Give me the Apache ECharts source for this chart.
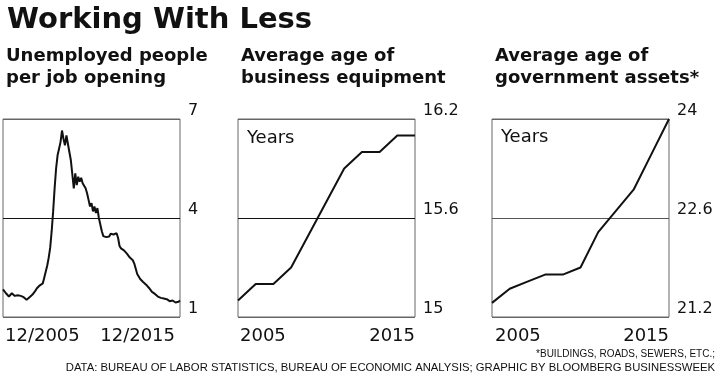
<!DOCTYPE html>
<html>
<head>
<meta charset="utf-8">
<script src="https://cdn.jsdelivr.net/npm/echarts@6/dist/echarts.min.js"></script>
<style>
html,body{margin:0;padding:0;background:#fff;}
#chart{width:720px;height:378px;}
</style>
</head>
<body>
<div id="chart"></div>
<script>
// ---- Data ----
// Panel 1: Unemployed people per job opening, monthly 12/2005 - 12/2015
var jobsRatio = [
  1.84,1.78,1.72,1.66,1.62,1.68,1.72,1.70,1.64,1.62,1.66,1.68,
  1.64,1.66,1.60,1.56,1.52,1.56,1.60,1.64,1.68,1.70,1.80,1.87,
  1.90,1.96,1.94,2.02,2.20,2.38,2.56,2.80,3.10,3.60,4.20,4.90,
  5.50,5.90,6.10,6.30,6.65,6.40,6.20,6.50,6.45,6.00,5.75,5.70,
  4.90,5.35,5.00,5.25,5.10,5.22,5.05,5.10,4.90,4.75,4.55,4.35,
  4.45,4.20,4.35,4.15,4.30,4.00,3.95,3.60,3.45,3.50,3.42,3.48,
  3.44,3.52,3.46,3.50,3.46,3.54,3.40,3.15,3.08,3.06,3.02,2.98,
  2.92,2.86,2.80,2.76,2.72,2.62,2.58,2.30,2.24,2.15,2.12,2.06,
  2.02,1.98,1.94,1.88,1.82,1.76,1.72,1.70,1.64,1.62,1.64,1.58,
  1.60,1.56,1.58,1.54,1.50,1.48,1.52,1.50,1.46,1.44,1.48,1.46,
  1.50
];
var monthLabels = [];
(function(){
  var y = 2005, m = 12;
  for (var i = 0; i < jobsRatio.length; i++) {
    monthLabels.push(m + '/' + y);
    m++; if (m > 12) { m = 1; y++; }
  }
})();

// Panels 2 & 3: annual 2005 - 2015
var years = ['2005','2006','2007','2008','2009','2010','2011','2012','2013','2014','2015'];
var businessEquipAge = [15.1,15.2,15.2,15.3,15.5,15.7,15.9,16.0,16.0,16.1,16.1];
var govAssetsAge = [21.4,21.6,21.7,21.8,21.8,21.9,22.4,22.7,23.0,23.5,24.0];

// Axis ranges (tick labels)
var yRange1 = {min: 1, max: 7, interval: 3};
var yRange2 = {min: 15, max: 16.2, interval: 0.6};
var yRange3 = {min: 21.2, max: 24, interval: 1.4};

// ---- Chart ----
var chart = echarts.init(document.getElementById('chart'), null, {renderer: 'canvas'});
var INK = '#111';
var FONT = 'DejaVu Sans';
var BORDER = '#666';

function grid(left) {
  return {left: left, top: 119, width: 177, height: 198, show: true,
          borderColor: BORDER, borderWidth: 1, backgroundColor: 'transparent'};
}
function xAxis(idx, cats, pad) {
  var last = cats.length - 1;
  return {
    type: 'category', gridIndex: idx, data: cats, boundaryGap: false,
    axisLine: {show: false}, axisTick: {show: false}, splitLine: {show: false},
    axisLabel: {
      interval: function (i) { return i === 0 || i === last; },
      color: INK, fontFamily: FONT, fontSize: 18, margin: 10,
      alignMinLabel: 'left', alignMaxLabel: 'right',
      showMinLabel: true, showMaxLabel: true,
      padding: pad
    }
  };
}
function yAxis(idx, r, dec, midColor) {
  return {
    type: 'value', gridIndex: idx, position: 'right',
    min: r.min, max: r.max, interval: r.interval,
    axisLine: {show: false}, axisTick: {show: false},
    splitLine: {show: true, lineStyle: {color: [BORDER, midColor, BORDER], width: 1}},
    axisLabel: {
      color: INK, fontFamily: FONT, fontSize: 16, margin: 8,
      verticalAlign: 'bottom',
      formatter: function (v) { return dec ? (+v).toFixed(1).replace(/\.0$/, '') : String(Math.round(v)); }
    }
  };
}
function lineSeries(idx, data) {
  return {type: 'line', xAxisIndex: idx, yAxisIndex: idx, data: data,
          symbol: 'none', silent: true, animation: false,
          lineStyle: {color: '#111', width: 2}};
}

var subStyle = {fontFamily: FONT, fontWeight: 'bold', fontSize: 18, color: INK, lineHeight: 22};

chart.setOption({
  animation: false,
  backgroundColor: '#fff',
  title: [
    {text: 'Working With Less', left: 2, top: 1,
     textStyle: {fontFamily: FONT, fontWeight: 'bold', fontSize: 29, color: INK}},
    {text: 'Unemployed people\nper job opening', left: 1, top: 40, textStyle: subStyle},
    {text: 'Average age of\nbusiness equipment', left: 236, top: 40, textStyle: subStyle},
    {text: 'Average age of\ngovernment assets*', left: 490, top: 40, textStyle: subStyle},
    {text: 'Years', left: 242, top: 124,
     textStyle: {fontFamily: FONT, fontWeight: 'normal', fontSize: 18, color: INK}},
    {text: 'Years', left: 496, top: 123,
     textStyle: {fontFamily: FONT, fontWeight: 'normal', fontSize: 18, color: INK}},
    {text: '*BUILDINGS, ROADS, SEWERS, ETC.;', right: 0, top: 344,
     textStyle: {fontFamily: 'Liberation Sans', fontWeight: 'normal', fontSize: 10, color: INK}},
    {text: 'DATA: BUREAU OF LABOR STATISTICS, BUREAU OF ECONOMIC ANALYSIS; GRAPHIC BY BLOOMBERG BUSINESSWEEK', right: 0, top: 357,
     textStyle: {fontFamily: 'Liberation Sans', fontWeight: 'normal', fontSize: 11.3, color: INK}}
  ],
  grid: [grid(3), grid(238), grid(492)],
  xAxis: [xAxis(0, monthLabels, [0, 5, 0, 2]), xAxis(1, years, [0, 0, 0, 2]), xAxis(2, years, [0, 0, 0, 3])],
  yAxis: [yAxis(0, yRange1, false, '#111'), yAxis(1, yRange2, true, '#111'), yAxis(2, yRange3, true, '#555')],
  series: [lineSeries(0, jobsRatio), lineSeries(1, businessEquipAge), lineSeries(2, govAssetsAge)]
});
</script>
</body>
</html>
